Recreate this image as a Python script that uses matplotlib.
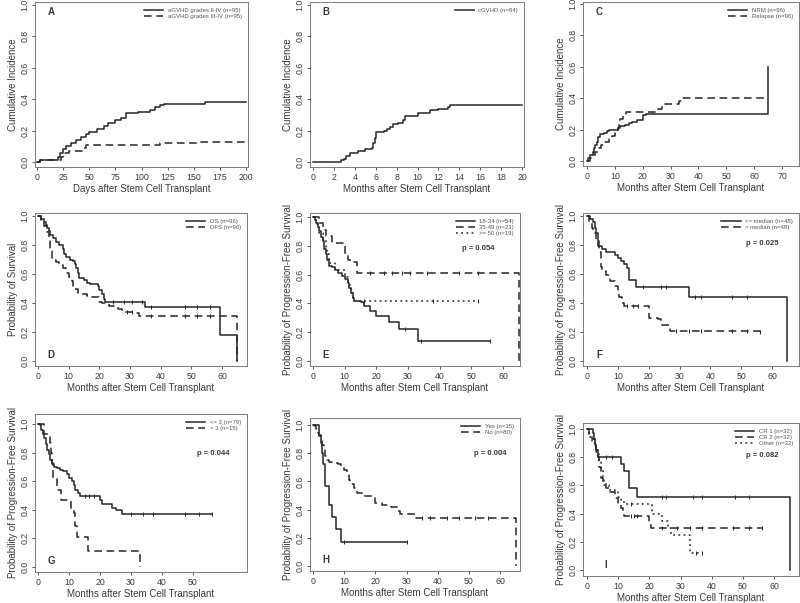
import numpy as np
import matplotlib.pyplot as plt

plt.rcParams['font.family'] = ['Liberation Sans', 'DejaVu Sans']

# ---- data (step functions: times where value changes) ----
# A: acute GVHD, days
a_g2_t = [0, 3, 20, 22, 25, 28, 33, 37, 42, 47, 50, 57, 64, 68, 75, 80, 85, 97, 108, 113, 118, 122, 161, 200]
a_g2_y = [0, .01, .03, .06, .08, .10, .12, .14, .16, .18, .19, .21, .23, .25, .27, .28, .31, .32, .33, .35, .36, .37, .38, .38]
a_g3_t = [0, 3, 20, 23, 25, 31, 45, 47, 118, 155, 200]
a_g3_y = [0, .01, .01, .03, .06, .07, .09, .11, .12, .13, .13]

# B: chronic GVHD, months
b_t = [0, 2.7, 3.0, 3.2, 3.5, 4.3, 5.0, 5.6, 5.75, 5.9, 6.0, 6.8, 7.1, 7.4, 7.7, 8.1, 8.6, 8.8, 10.0, 11.2, 12.0, 12.9, 13.1, 20]
b_y = [0, .01, .02, .04, .06, .07, .08, .09, .12, .15, .19, .20, .21, .22, .24, .25, .27, .29, .31, .33, .34, .35, .36, .36]

# C: NRM / relapse
c_nrm_t = [0, .5, 1, 2, 2.5, 3, 3.5, 4, 4.5, 6, 7, 8, 11, 12, 13.5, 15, 16, 18, 20, 21, 65, 65]
c_nrm_y = [0, .02, .04, .06, .08, .10, .12, .15, .17, .18, .19, .20, .21, .22, .23, .24, .25, .26, .29, .30, .30, .60]
c_rel_t = [0, 1, 2, 3, 4, 5, 6, 8, 9, 10, 11, 11.5, 12, 13, 14, 24, 25, 27, 28, 33, 34, 65]
c_rel_y = [0, .02, .04, .06, .08, .10, .12, .14, .16, .18, .21, .24, .27, .29, .31, .31, .33, .35, .36, .38, .40, .40]

# D: OS / DFS
d_os_t = [0, 1, 2, 2.5, 3, 3.5, 4, 5, 6, 7, 8, 8.5, 9, 10.5, 11.5, 12, 12.5, 13, 13.5, 15, 16, 17, 19.5, 20, 21, 21.5, 22, 35, 59.5, 65]
d_os_y = [1, .98, .96, .94, .92, .90, .87, .85, .82, .80, .77, .74, .72, .70, .69, .67, .64, .61, .57, .56, .54, .53, .52, .49, .46, .43, .41, .37, .18, 0]
d_os_c = [24.5, 28, 30.5, 34, 37, 48, 52, 56]
d_dfs_t = [0, 1, 2, 3, 3.5, 4, 4.5, 5, 6, 7, 8, 9, 10, 11, 11.5, 12, 13, 14, 16, 17.5, 20, 21, 23, 26, 27.5, 32, 33, 65]
d_dfs_y = [1, .97, .93, .89, .84, .76, .71, .70, .68, .66, .64, .61, .58, .55, .52, .50, .47, .46, .45, .44, .41, .40, .38, .36, .34, .33, .31, 0]
d_dfs_c = [29, 30.5, 37, 48, 52, 56]

# E: PFS by age
e_1_t = [0, .5, 1, 1.5, 2, 2.5, 3, 3.5, 4, 4.5, 5, 6, 7, 8, 9, 10, 11, 11.5, 12, 12.5, 13, 15, 16, 18, 20, 24, 27, 33, 56]
e_1_y = [1, .98, .96, .93, .90, .86, .83, .78, .74, .70, .66, .65, .63, .61, .59, .57, .54, .51, .47, .44, .42, .41, .38, .35, .31, .27, .22, .14, .14]
e_1_c = [29, 34, 56]
e_2_t = [0, 2, 3, 4, 6, 10, 11, 13, 14, 65]
e_2_y = [1, .96, .91, .87, .82, .74, .70, .69, .61, 0]
e_2_c = [18, 22.5, 25, 28, 30.5, 36, 46, 52]
e_3_t = [0, 1, 2, 3, 4, 4.5, 5, 7, 10, 11, 12, 12.5, 52]
e_3_y = [1, .95, .89, .84, .79, .74, .68, .63, .58, .53, .47, .42, .42]
e_3_c = [16, 38, 52]

# F: PFS by median
f_1_t = [0, 1, 2, 2.5, 3, 3.5, 4, 5, 6, 9, 10, 11, 12, 13, 13.5, 16, 33, 65]
f_1_y = [1, .98, .96, .92, .88, .83, .79, .77, .75, .73, .71, .69, .67, .64, .56, .51, .44, 0]
f_1_c = [18, 24, 25.5, 35, 37, 47, 52]
f_2_t = [0, .5, 1.5, 2, 3, 3.5, 4, 4.5, 5, 6, 7.5, 9, 10, 10.5, 11.5, 12, 20, 23, 24, 27, 56]
f_2_y = [1, .96, .92, .88, .83, .79, .75, .65, .62, .59, .55, .52, .48, .44, .40, .38, .30, .29, .25, .21, .20]
f_2_c = [13, 15, 16.5, 29, 33, 37, 47, 52, 56]

# G: PFS by prior lines
g_1_t = [0, .5, 1, 1.5, 2, 2.5, 3, 3.5, 4, 4.5, 5, 6, 7, 8, 9.5, 10, 11, 11.5, 12, 13, 13.5, 20, 20.5, 24, 25, 27, 56]
g_1_y = [1, .99, .96, .93, .90, .86, .82, .79, .75, .72, .70, .69, .68, .67, .65, .62, .60, .57, .54, .52, .50, .47, .44, .41, .40, .37, .37]
g_1_c = [15, 16.5, 18, 30, 34, 37, 47.5, 52, 56]
g_2_t = [0, 2, 4, 4.2, 4.5, 4.8, 6, 7.5, 10.5, 11.5, 12, 12.5, 16, 33]
g_2_y = [1, .93, .87, .80, .73, .62, .54, .47, .40, .38, .29, .21, .11, 0]

# H: PFS Yes / No
h_1_t = [0, 2, 2.5, 3, 3.3, 4, 5, 5.2, 6, 7.5, 9, 30]
h_1_y = [1, .93, .87, .80, .72, .57, .50, .43, .35, .26, .17, .17]
h_1_c = [10, 30]
h_2_t = [0, .5, 1, 1.5, 2, 2.5, 3, 3.5, 4, 4.5, 5, 6, 8, 9, 10, 11, 11.5, 12, 13, 14, 16, 19, 20, 22, 25, 27, 28, 33, 65]
h_2_y = [1, .99, .97, .94, .92, .89, .86, .82, .78, .75, .74, .73, .72, .71, .68, .65, .61, .58, .55, .52, .50, .49, .45, .43, .42, .39, .37, .34, 0]
h_2_c = [35, 37.5, 43, 47, 52, 56]

# I: PFS by disease status
i_1_t = [0, 2, 2.3, 2.6, 3, 3.5, 11, 12, 13.5, 16, 65]
i_1_y = [1, .97, .93, .89, .85, .80, .75, .70, .58, .52, 0]
i_1_c = [6, 8, 24, 25.5, 34, 37, 47.5, 52]
i_2_t = [0, .5, 1.5, 2.5, 3, 3.5, 4, 4.5, 5, 6, 7.5, 9, 10, 11, 11.5, 12, 20, 20.5, 56]
i_2_y = [1, .96, .93, .90, .85, .80, .73, .65, .62, .58, .55, .51, .46, .44, .41, .38, .32, .30, .30]
i_2_c = [14, 15, 16, 24, 29, 33, 37, 47, 52, 56]
i_3_t = [0, .5, 1.5, 3, 4, 4.5, 5, 5.5, 7, 9, 10, 11, 12, 21, 24, 26, 27, 33, 37]
i_3_y = [1, .94, .90, .84, .78, .72, .66, .60, .57, .56, .52, .50, .47, .40, .35, .30, .25, .12, .12]
i_3_c = [14, 35, 37]

DARK = '#262626'
TXT = '#3a3a3a'
SOLID = '-'
DASH = (0, (5, 3))
DOT = (0, (1.2, 2.2))


def step_val(t, y, x):
    i = np.searchsorted(t, x, side='right') - 1
    return y[max(i, 0)]


def make_axes(fig, box, xa, ya, xticks, xlabel, ylabel):
    # box: left, top, right, bottom in pixels; xa/ya: (value0, px0, value1, px1)
    l, t, r, b = box
    ax = fig.add_axes([l / 800, 1 - b / 603, (r - l) / 800, (b - t) / 603])
    sx = (xa[2] - xa[0]) / (xa[3] - xa[1])
    sy = (ya[2] - ya[0]) / (ya[3] - ya[1])
    ax.set_xlim(xa[0] + (l - xa[1]) * sx, xa[0] + (r - xa[1]) * sx)
    ax.set_ylim(ya[0] + (b - ya[1]) * sy, ya[0] + (t - ya[1]) * sy)
    ax.set_xticks(xticks)
    ax.set_yticks([0, .2, .4, .6, .8, 1.0])
    ax.set_yticklabels(['0.0', '0.2', '0.4', '0.6', '0.8', '1.0'], rotation=90, va='center')
    ax.tick_params(labelsize=6.3, colors=TXT, length=2.5, width=0.6, pad=1.5)
    for s in ax.spines.values():
        s.set_color('#7a7a7a')
        s.set_linewidth(0.7)
    ax.set_xlabel(xlabel, fontsize=7, color=TXT, labelpad=2)
    ax.set_ylabel(ylabel, fontsize=7, color=TXT, labelpad=2)
    return ax


def curve(ax, t, y, ls, label, cens=None):
    ax.step(t, y, where='post', color=DARK, lw=1.1, linestyle=ls, label=label)
    if cens:
        cy = [step_val(np.array(t), y, c) for c in cens]
        ax.plot(cens, cy, linestyle='none', marker='|', ms=3.5, mew=0.7, color=DARK)


def legend(ax):
    lg = ax.legend(loc='upper right', frameon=False, fontsize=4.3, handlelength=3.2,
                   labelspacing=0.15, borderaxespad=0.6, handletextpad=0.8)
    for tx in lg.get_texts():
        tx.set_color('#555555')


fig = plt.figure(figsize=(8, 6.03), dpi=100)

ylab_ci = 'Cumulative Incidence'
ylab_pfs = 'Probability of Progression-Free Survival'
xlab_m = 'Months after Stem Cell Transplant'

# A
ax = make_axes(fig, (35, 2, 248, 167), (0, 37, 200, 246), (0, 162, 1, 5),
               range(0, 201, 25), 'Days after Stem Cell Transplant', ylab_ci)
curve(ax, a_g2_t, a_g2_y, SOLID, 'aGVHD grades II-IV (n=95)')
curve(ax, a_g3_t, a_g3_y, DASH, 'aGVHD grades III-IV (n=95)')
legend(ax)
ax.text(0.06, 0.92, 'A', transform=ax.transAxes, fontsize=7, fontweight='bold', color=TXT)

# B
ax = make_axes(fig, (310, 2, 524, 167), (0, 313, 20, 522), (0, 162, 1, 5),
               range(0, 21, 2), xlab_m, ylab_ci)
curve(ax, b_t, b_y, SOLID, 'cGVHD (n=84)')
legend(ax)
ax.text(0.06, 0.92, 'B', transform=ax.transAxes, fontsize=7, fontweight='bold', color=TXT)

# C
ax = make_axes(fig, (583, 2, 799, 166), (0, 587, 70, 782), (0, 161, 1, 4),
               range(0, 71, 10), xlab_m, ylab_ci)
curve(ax, c_nrm_t, c_nrm_y, SOLID, 'NRM (n=96)')
curve(ax, c_rel_t, c_rel_y, DASH, 'Relapse (n=96)')
legend(ax)
ax.text(0.06, 0.92, 'C', transform=ax.transAxes, fontsize=7, fontweight='bold', color=TXT)

# D
ax = make_axes(fig, (35, 213, 247, 366), (0, 38, 60, 222), (0, 361, 1, 216),
               range(0, 61, 10), xlab_m, 'Probability of Survival')
curve(ax, d_os_t, d_os_y, SOLID, 'OS (n=96)', d_os_c)
curve(ax, d_dfs_t, d_dfs_y, DASH, 'DFS (n=96)', d_dfs_c)
legend(ax)
ax.text(0.06, 0.05, 'D', transform=ax.transAxes, fontsize=7, fontweight='bold', color=TXT)

# E
ax = make_axes(fig, (310, 213, 520, 366), (0, 313, 60, 503), (0, 361, 1, 217),
               range(0, 61, 10), xlab_m, ylab_pfs)
curve(ax, e_1_t, e_1_y, SOLID, '18-34 (n=54)', e_1_c)
curve(ax, e_2_t, e_2_y, DASH, '35-49 (n=23)', e_2_c)
curve(ax, e_3_t, e_3_y, DOT, '>= 50 (n=19)', e_3_c)
legend(ax)
ax.text(0.8, 0.76, 'p = 0.054', transform=ax.transAxes, fontsize=5.5, fontweight='bold',
        color=TXT, ha='center')
ax.text(0.06, 0.05, 'E', transform=ax.transAxes, fontsize=7, fontweight='bold', color=TXT)

# F
ax = make_axes(fig, (583, 213, 799, 366), (0, 587, 60, 772), (0, 361, 1, 216),
               range(0, 61, 10), xlab_m, ylab_pfs)
curve(ax, f_1_t, f_1_y, SOLID, '<= median (n=48)', f_1_c)
curve(ax, f_2_t, f_2_y, DASH, '> median (n=48)', f_2_c)
legend(ax)
ax.text(0.83, 0.79, 'p = 0.025', transform=ax.transAxes, fontsize=5.5, fontweight='bold',
        color=TXT, ha='center')
ax.text(0.06, 0.05, 'F', transform=ax.transAxes, fontsize=7, fontweight='bold', color=TXT)

# G
ax = make_axes(fig, (35, 414, 247, 572), (0, 38, 50, 193), (0, 567, 1, 424),
               range(0, 51, 10), xlab_m, ylab_pfs)
curve(ax, g_1_t, g_1_y, SOLID, '<= 3 (n=79)', g_1_c)
curve(ax, g_2_t, g_2_y, DASH, '> 3 (n=15)')
legend(ax)
ax.text(0.84, 0.74, 'p = 0.044', transform=ax.transAxes, fontsize=5.5, fontweight='bold',
        color=TXT, ha='center')
ax.text(0.06, 0.05, 'G', transform=ax.transAxes, fontsize=7, fontweight='bold', color=TXT)

# H
ax = make_axes(fig, (310, 418, 520, 571), (0, 313, 60, 500), (0, 566, 1, 425),
               range(0, 61, 10), xlab_m, ylab_pfs)
curve(ax, h_1_t, h_1_y, SOLID, 'Yes (n=15)', h_1_c)
curve(ax, h_2_t, h_2_y, DASH, 'No (n=80)', h_2_c)
legend(ax)
ax.text(0.86, 0.76, 'p = 0.004', transform=ax.transAxes, fontsize=5.5, fontweight='bold',
        color=TXT, ha='center')
ax.text(0.06, 0.05, 'H', transform=ax.transAxes, fontsize=7, fontweight='bold', color=TXT)

# I
ax = make_axes(fig, (583, 423, 799, 576), (0, 587, 60, 774), (0, 570, 1, 429),
               range(0, 61, 10), xlab_m, ylab_pfs)
curve(ax, i_1_t, i_1_y, SOLID, 'CR 1 (n=32)', i_1_c)
curve(ax, i_2_t, i_2_y, DASH, 'CR 2 (n=32)', i_2_c)
curve(ax, i_3_t, i_3_y, DOT, 'Other (n=32)', i_3_c)
legend(ax)
ax.text(0.83, 0.78, 'p = 0.082', transform=ax.transAxes, fontsize=5.5, fontweight='bold',
        color=TXT, ha='center')
ax.text(0.1, 0.05, 'I', transform=ax.transAxes, fontsize=7, fontweight='bold', color=TXT)

fig.savefig('out.png', dpi=100)
